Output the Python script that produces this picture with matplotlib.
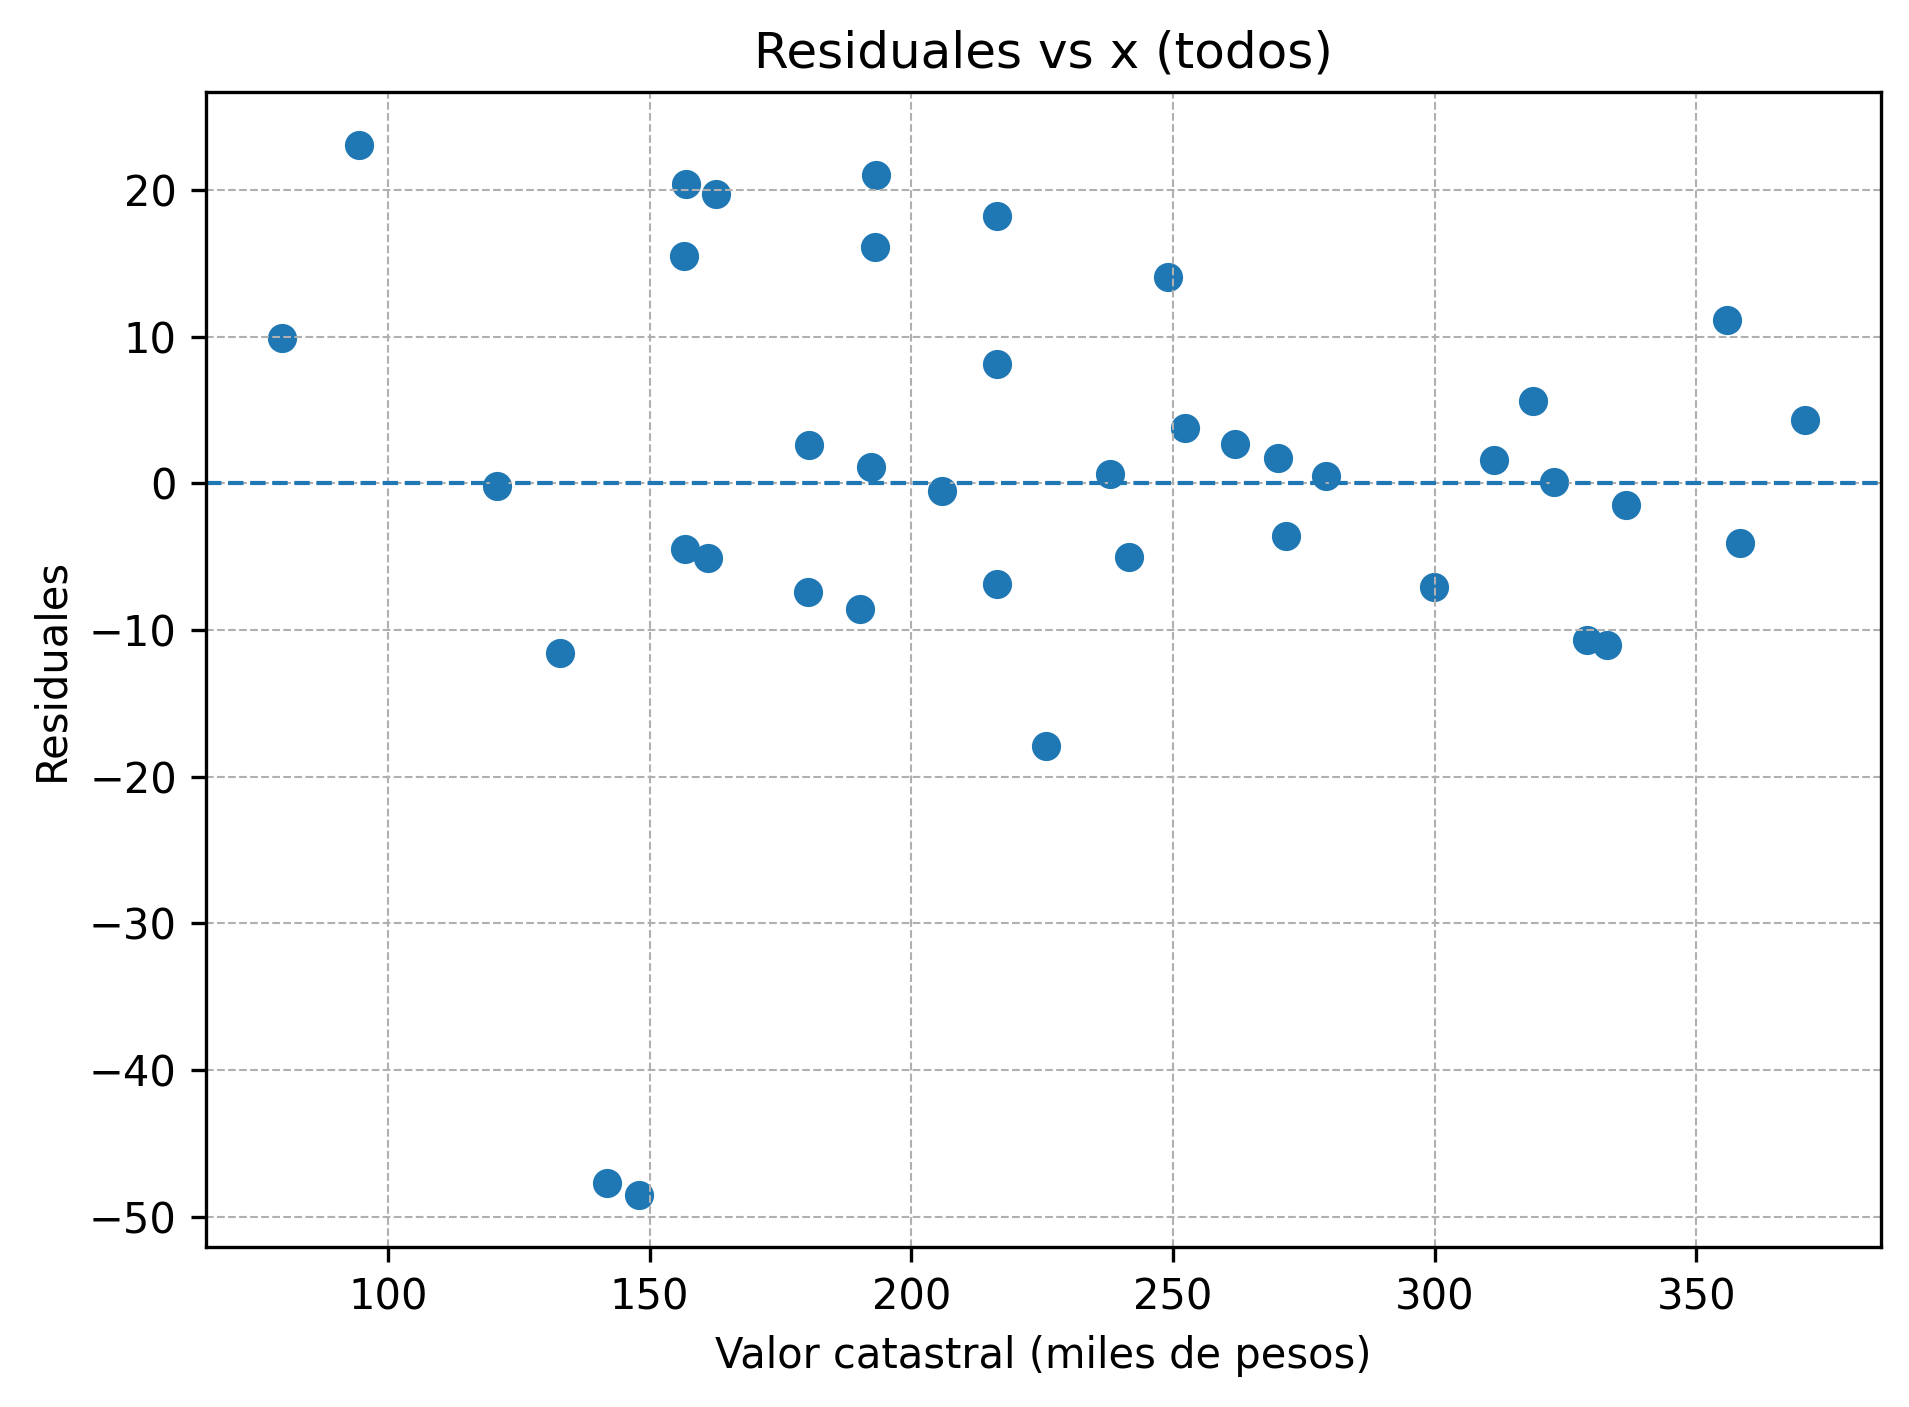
import numpy as np
import matplotlib
matplotlib.use("Agg")
import matplotlib.pyplot as plt

# Valor catastral (miles de pesos)
x = [79.8, 94.4, 120.9, 132.8, 141.9, 147.9, 156.5, 157.0, 156.7, 161.2,
     162.6, 180.2, 180.5, 190.2, 192.3, 193.0, 193.3, 205.8, 216.3, 216.3,
     216.3, 225.8, 237.9, 241.6, 249.1, 252.3, 261.9, 270.0, 271.6, 279.3,
     299.8, 311.4, 318.8, 322.8, 329.1, 333.0, 336.5, 355.8, 358.4, 370.7]

# Residuales
residuales = [9.9, 23.1, -0.2, -11.6, -47.7, -48.5, 15.5, 20.4, -4.5, -5.1,
              19.7, -7.4, 2.6, -8.6, 1.1, 16.1, 21.0, -0.5, 18.2, 8.1,
              -6.9, -17.9, 0.6, -5.0, 14.1, 3.8, 2.7, 1.7, -3.6, 0.5,
              -7.1, 1.6, 5.6, 0.1, -10.7, -11.0, -1.5, 11.1, -4.1, 4.3]

fig = plt.figure(figsize=(1909 / 300, 1407 / 300))
ax = fig.add_axes([0.1079, 0.1137, 0.9853 - 0.1079, 0.9346 - 0.1137])
ax.scatter(x, residuales)
ax.axhline(0, linestyle="--", linewidth=1)
ax.set_title("Residuales vs x (todos)")
ax.set_xlabel("Valor catastral (miles de pesos)")
ax.set_ylabel("Residuales")
ax.grid(True, linestyle="--", linewidth=0.5)
plt.savefig("out.png", dpi=300)
